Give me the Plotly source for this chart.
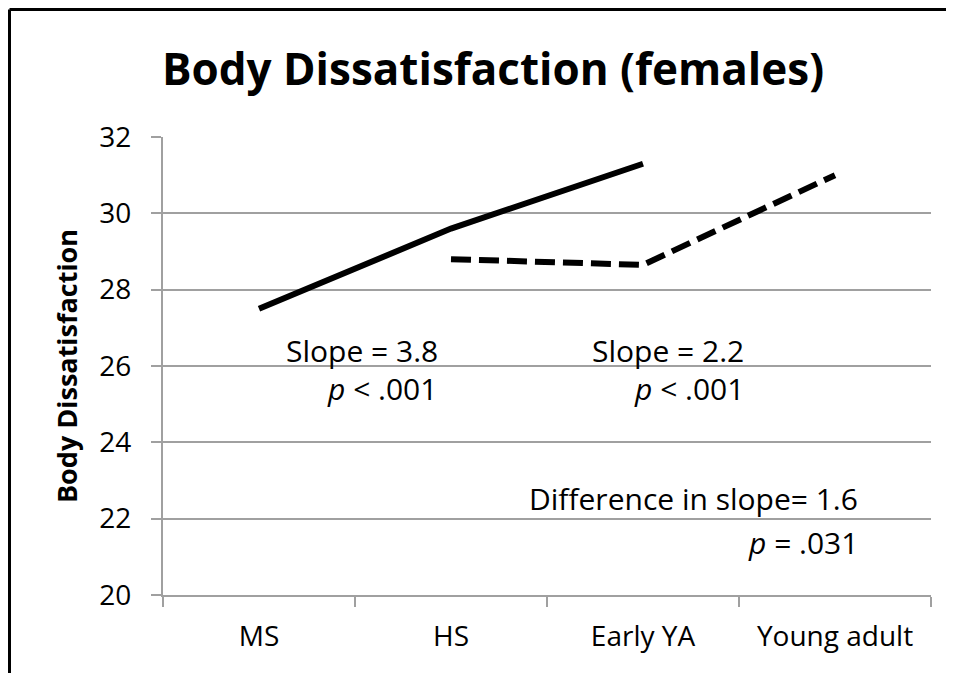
import plotly.graph_objects as go

categories = ["MS", "HS", "Early YA", "Young adult"]
solid_values = [27.5, 29.6, 31.3, None]
dashed_values = [None, 28.8, 28.65, 31.0]
y_ticks = [20, 22, 24, 26, 28, 30, 32]

FONT = "Open Sans"
OFF = 8  # page body margin offset
W, H = 954 - OFF, 673 - OFF
# plot area in reference pixel coords
PX0, PX1, PY0, PY1 = 163, 931, 137, 595
L, T = PX0 - OFF, PY0 - OFF
R, B = W - (PX1 - OFF), H - (PY1 - OFF)
pw, ph = PX1 - PX0, PY1 - PY0


def px_x(x):
    return (x - PX0) / pw


def px_y(y):
    return (PY1 - y) / ph


fig = go.Figure()
fig.add_trace(go.Scatter(x=categories, y=solid_values, mode="lines",
                         line=dict(color="black", width=6), connectgaps=False,
                         showlegend=False, hoverinfo="skip"))
fig.add_trace(go.Scatter(x=categories, y=dashed_values, mode="lines",
                         line=dict(color="black", width=6, dash="20px,8px"),
                         connectgaps=False, showlegend=False, hoverinfo="skip"))

ann_font = dict(family=FONT, size=30, color="black")
annotations = [
    dict(text="Slope = 3.8", x=px_x(440), y=px_y(350), xanchor="right"),
    dict(text="<i>p</i> &lt; .001", x=px_x(439), y=px_y(388), xanchor="right"),
    dict(text="Slope = 2.2", x=px_x(746), y=px_y(350), xanchor="right"),
    dict(text="<i>p</i> &lt; .001", x=px_x(746), y=px_y(388), xanchor="right"),
    dict(text="Difference in slope= 1.6", x=px_x(860), y=px_y(498), xanchor="right"),
    dict(text="<i>p</i> = .031", x=px_x(860), y=px_y(542), xanchor="right"),
]
for a in annotations:
    a.update(xref="paper", yref="paper", yanchor="middle", showarrow=False, font=ann_font)

border = dict(color="black", width=3)
fig.update_layout(
    width=W, height=H,
    margin=dict(l=L, r=R, t=T, b=B),
    paper_bgcolor="white", plot_bgcolor="white",
    title=dict(text="<b>Body Dissatisfaction (females)</b>",
               font=dict(family=FONT, size=44, color="black"),
               x=px_x(493), xref="paper", xanchor="center",
               y=1 - (70 - OFF) / H, yref="container", yanchor="middle"),
    annotations=annotations,
    shapes=[
        dict(type="line", xref="paper", yref="paper",
             x0=px_x(9.5), x1=px_x(960), y0=px_y(9.5), y1=px_y(9.5), line=border),
        dict(type="line", xref="paper", yref="paper",
             x0=px_x(9.5), x1=px_x(9.5), y0=px_y(9.5), y1=px_y(680), line=border),
    ],
    showlegend=False,
)
fig.update_xaxes(type="category", categoryorder="array", categoryarray=categories,
                 range=[-0.5, 3.5], tickson="boundaries", ticks="outside", ticklen=10,
                 tickcolor="#a0a0a0", tickwidth=2, showgrid=False,
                 showline=True, linecolor="#a0a0a0", linewidth=2,
                 ticklabelstandoff=15,
                 tickfont=dict(family=FONT, size=28, color="black"), zeroline=False)
fig.update_yaxes(range=[20, 32], tickvals=y_ticks, ticks="outside", ticklen=10,
                 tickcolor="#a0a0a0", tickwidth=2, showgrid=True, gridcolor="#a0a0a0",
                 gridwidth=2, showline=True, linecolor="#a0a0a0", linewidth=2,
                 ticklabelstandoff=14,
                 tickfont=dict(family=FONT, size=28, color="black"), zeroline=False,
                 title=dict(text="<b>Body Dissatisfaction</b>",
                            font=dict(family=FONT, size=27, color="black"), standoff=14))

fig.write_html("out.html")
